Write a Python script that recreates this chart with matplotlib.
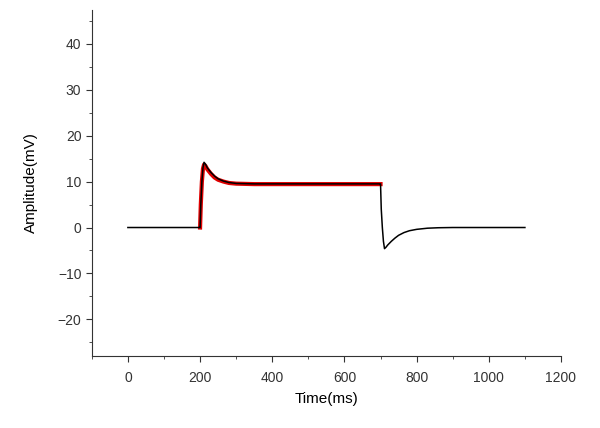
import numpy as np
import matplotlib.pyplot as plt
from matplotlib.ticker import MultipleLocator

plt.rcParams['font.family'] = ['Liberation Sans', 'DejaVu Sans']

t_meas = [0, 199, 200, 202, 205, 208, 211, 215, 220, 230, 240, 250, 265, 280,
          300, 350, 400, 500, 600, 699, 700, 702, 705, 708, 711, 715, 720,
          730, 740, 750, 765, 780, 800, 830, 860, 900, 1000, 1100]
amp_meas = [0, 0, 0, 5, 10, 13, 14.2, 13.8, 13.0, 12.0, 11.2, 10.6, 10.1, 9.8,
            9.6, 9.5, 9.5, 9.5, 9.5, 9.5, 9.5, 4, 0, -3, -4.6, -4.3, -3.8,
            -3.0, -2.3, -1.7, -1.1, -0.7, -0.4, -0.15, -0.05, 0, 0, 0]

# fitted curve (red)
t_fit = [200, 202, 205, 208, 211, 215, 220, 230, 240, 250, 265, 280, 300,
         350, 400, 500, 600, 700]
amp_fit = [0, 5, 10, 12.8, 13.7, 13.4, 12.7, 11.7, 10.9, 10.4, 10.0, 9.7,
           9.55, 9.45, 9.45, 9.45, 9.45, 9.45]

fig = plt.figure(figsize=(6, 4.28), dpi=100)
ax = fig.add_axes([0.153, 0.168, 0.782, 0.809])

ax.plot(t_fit, amp_fit, color='#e00000', linewidth=3)
ax.plot(t_meas, amp_meas, color='black', linewidth=1.1)

ax.set_xlim(-100, 1200)
ax.set_ylim(-28, 47.4)
ax.xaxis.set_major_locator(MultipleLocator(200))
ax.xaxis.set_minor_locator(MultipleLocator(100))
ax.yaxis.set_major_locator(MultipleLocator(10))
ax.yaxis.set_minor_locator(MultipleLocator(5))
ax.set_yticks([-20, -10, 0, 10, 20, 30, 40])

for s in ['top', 'right']:
    ax.spines[s].set_visible(False)
for s in ['left', 'bottom']:
    ax.spines[s].set_color('#333333')
ax.tick_params(which='major', length=4, labelsize=10, colors='#333333')
ax.tick_params(axis='x', which='major', pad=7)
ax.tick_params(which='minor', length=2.5, colors='#333333')

ax.set_xlabel('Time(ms)', fontsize=11, labelpad=5)
ax.set_ylabel('Amplitude(mV)', fontsize=11, labelpad=14)

fig.savefig('out.png', dpi=100)
